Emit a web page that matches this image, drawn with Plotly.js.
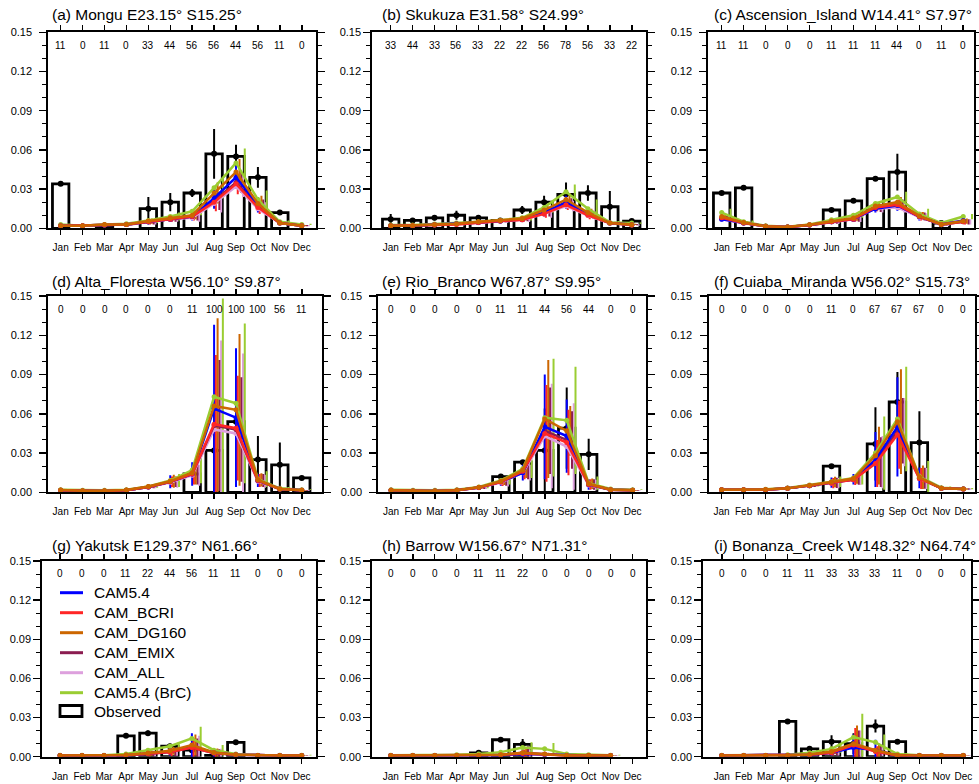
<!DOCTYPE html>
<html>
<head>
<meta charset="utf-8">
<script src="https://cdn.plot.ly/plotly-3.0.1.min.js"></script>
<style>
html, body { margin: 0; padding: 0; background: #ffffff; }
#chart { width: 979px; height: 784px; }
</style>
</head>
<body>
<div id="chart"></div>
<script>
// Monthly mean AAOD at AERONET-style stations: observed bars vs. six model runs
const months = ['Jan', 'Feb', 'Mar', 'Apr', 'May', 'Jun', 'Jul', 'Aug', 'Sep', 'Oct', 'Nov', 'Dec'];
const monthIndex = [1, 2, 3, 4, 5, 6, 7, 8, 9, 10, 11, 12];
const yTickVals = [0, 0.03, 0.06, 0.09, 0.12, 0.15];
const yTickText = ['0.00', '0.03', '0.06', '0.09', '0.12', '0.15'];
const modelNames = ['CAM5.4', 'CAM_BCRI', 'CAM_DG160', 'CAM_EMIX', 'CAM_ALL', 'CAM5.4 (BrC)'];
const obsName = 'Observed';

// (a) Mongu
const mongu_n      = [11, 0, 11, 0, 33, 44, 56, 56, 44, 56, 11, 0];
const mongu_obs    = [0.034, null, 0.001, null, 0.015, 0.020, 0.027, 0.057, 0.055, 0.039, 0.012, null];
const mongu_obs_sd = [0.001, 0, 0, 0, 0.009, 0.007, 0.003, 0.019, 0.009, 0.008, 0.001, 0];
const mongu_cam54    = [0.002, 0.002, 0.0025, 0.003, 0.005, 0.007, 0.009, 0.023, 0.039, 0.018, 0.004, 0.002];
const mongu_cam54_sd = [0.0005, 0.0005, 0.0005, 0.0008, 0.002, 0.002, 0.003, 0.008, 0.009, 0.006, 0.001, 0.0005];
const mongu_bcri     = [0.002, 0.002, 0.0025, 0.003, 0.005, 0.007, 0.009, 0.020, 0.034, 0.016, 0.004, 0.002];
const mongu_bcri_sd  = [0.0005, 0.0005, 0.0005, 0.0008, 0.002, 0.002, 0.003, 0.007, 0.008, 0.005, 0.001, 0.0005];
const mongu_dg160    = [0.002, 0.002, 0.003, 0.003, 0.0055, 0.008, 0.010, 0.027, 0.043, 0.019, 0.004, 0.002];
const mongu_dg160_sd = [0.0005, 0.0005, 0.0005, 0.0008, 0.002, 0.002, 0.003, 0.008, 0.010, 0.006, 0.001, 0.0005];
const mongu_emix     = [0.002, 0.002, 0.0025, 0.003, 0.005, 0.007, 0.009, 0.021, 0.035, 0.017, 0.004, 0.002];
const mongu_emix_sd  = [0.0005, 0.0005, 0.0005, 0.0008, 0.002, 0.002, 0.003, 0.007, 0.008, 0.005, 0.001, 0.0005];
const mongu_all      = [0.002, 0.002, 0.0025, 0.003, 0.005, 0.007, 0.008, 0.019, 0.032, 0.015, 0.004, 0.002];
const mongu_all_sd   = [0.0005, 0.0005, 0.0005, 0.0008, 0.002, 0.002, 0.003, 0.007, 0.008, 0.005, 0.001, 0.0005];
const mongu_brc      = [0.003, 0.002, 0.003, 0.0035, 0.006, 0.009, 0.013, 0.031, 0.050, 0.022, 0.005, 0.003];
const mongu_brc_sd   = [0.0005, 0.0005, 0.0005, 0.001, 0.002, 0.003, 0.003, 0.008, 0.011, 0.007, 0.001, 0.0005];

// (b) Skukuza
const skukuza_n      = [33, 44, 33, 56, 33, 22, 22, 56, 78, 56, 33, 22];
const skukuza_obs    = [0.007, 0.006, 0.008, 0.010, 0.008, 0.006, 0.014, 0.020, 0.026, 0.027, 0.0165, 0.0055];
const skukuza_obs_sd = [0.004, 0.001, 0.002, 0.0035, 0.0015, 0.001, 0.003, 0.005, 0.009, 0.006, 0.012, 0.001];
const skukuza_cam54    = [0.002, 0.002, 0.003, 0.0035, 0.0045, 0.0055, 0.007, 0.012, 0.020, 0.011, 0.004, 0.003];
const skukuza_cam54_sd = [0.0005, 0.0005, 0.0005, 0.0007, 0.001, 0.001, 0.0015, 0.003, 0.005, 0.003, 0.001, 0.0005];
const skukuza_bcri     = [0.002, 0.002, 0.0025, 0.003, 0.0045, 0.0055, 0.0065, 0.011, 0.018, 0.010, 0.004, 0.0025];
const skukuza_bcri_sd  = [0.0005, 0.0005, 0.0005, 0.0007, 0.001, 0.001, 0.0015, 0.003, 0.004, 0.003, 0.001, 0.0005];
const skukuza_dg160    = [0.002, 0.0022, 0.003, 0.0035, 0.005, 0.006, 0.0075, 0.014, 0.022, 0.012, 0.004, 0.003];
const skukuza_dg160_sd = [0.0005, 0.0005, 0.0005, 0.0007, 0.001, 0.001, 0.0015, 0.003, 0.005, 0.003, 0.001, 0.0005];
const skukuza_emix     = [0.002, 0.002, 0.0028, 0.0033, 0.0045, 0.0055, 0.0068, 0.012, 0.019, 0.0105, 0.004, 0.0028];
const skukuza_emix_sd  = [0.0005, 0.0005, 0.0005, 0.0007, 0.001, 0.001, 0.0015, 0.003, 0.004, 0.003, 0.001, 0.0005];
const skukuza_all      = [0.002, 0.002, 0.0025, 0.003, 0.0043, 0.0053, 0.0063, 0.011, 0.017, 0.0098, 0.0038, 0.0025];
const skukuza_all_sd   = [0.0005, 0.0005, 0.0005, 0.0007, 0.001, 0.001, 0.0015, 0.003, 0.004, 0.003, 0.001, 0.0005];
const skukuza_brc      = [0.0025, 0.0025, 0.0032, 0.004, 0.005, 0.0062, 0.008, 0.016, 0.028, 0.015, 0.0045, 0.004];
const skukuza_brc_sd   = [0.0005, 0.0005, 0.0005, 0.0008, 0.001, 0.001, 0.002, 0.004, 0.0055, 0.007, 0.001, 0.0005];

// (c) Ascension_Island
const ascension_n      = [11, 11, 0, 0, 0, 11, 11, 11, 44, 0, 11, 0];
const ascension_obs    = [0.027, 0.031, null, null, null, 0.014, 0.021, 0.038, 0.043, null, 0.004, null];
const ascension_obs_sd = [0.001, 0.001, 0, 0, 0, 0.001, 0.001, 0.001, 0.014, 0, 0, 0];
const ascension_cam54    = [0.007, 0.004, 0.0015, 0.001, 0.0025, 0.005, 0.007, 0.015, 0.0175, 0.009, 0.003, 0.006];
const ascension_cam54_sd = [0.002, 0.001, 0.0003, 0.0003, 0.0008, 0.0015, 0.002, 0.003, 0.004, 0.003, 0.001, 0.002];
const ascension_bcri     = [0.008, 0.004, 0.0015, 0.001, 0.0025, 0.005, 0.007, 0.016, 0.018, 0.009, 0.003, 0.005];
const ascension_bcri_sd  = [0.002, 0.001, 0.0003, 0.0003, 0.0008, 0.0015, 0.002, 0.003, 0.004, 0.003, 0.001, 0.002];
const ascension_dg160    = [0.009, 0.0045, 0.0015, 0.001, 0.0028, 0.0055, 0.0078, 0.017, 0.020, 0.0095, 0.003, 0.0055];
const ascension_dg160_sd = [0.002, 0.001, 0.0003, 0.0003, 0.0008, 0.0015, 0.002, 0.003, 0.004, 0.003, 0.001, 0.002];
const ascension_emix     = [0.0075, 0.004, 0.0015, 0.001, 0.0025, 0.005, 0.007, 0.0155, 0.018, 0.009, 0.003, 0.005];
const ascension_emix_sd  = [0.002, 0.001, 0.0003, 0.0003, 0.0008, 0.0015, 0.002, 0.003, 0.004, 0.003, 0.001, 0.002];
const ascension_all      = [0.007, 0.0038, 0.0014, 0.001, 0.0024, 0.0048, 0.0068, 0.015, 0.016, 0.0085, 0.0028, 0.005];
const ascension_all_sd   = [0.002, 0.001, 0.0003, 0.0003, 0.0008, 0.0015, 0.002, 0.003, 0.004, 0.003, 0.001, 0.002];
const ascension_brc      = [0.012, 0.005, 0.002, 0.0012, 0.003, 0.0065, 0.010, 0.019, 0.024, 0.011, 0.004, 0.009];
const ascension_brc_sd   = [0.003, 0.001, 0.0003, 0.0003, 0.0008, 0.0015, 0.002, 0.003, 0.004, 0.004, 0.001, 0.002];

// (d) Alta_Floresta
const alta_n      = [0, 0, 0, 0, 0, 0, 11, 100, 100, 100, 56, 11];
const alta_obs    = [null, null, null, null, null, null, 0.014, 0.032, 0.054, 0.025, 0.021, 0.011];
const alta_obs_sd = [0, 0, 0, 0, 0, 0, 0, 0.032, 0.034, 0.018, 0.017, 0.001];
const alta_cam54    = [0.0015, 0.001, 0.001, 0.0015, 0.004, 0.008, 0.014, 0.064, 0.057, 0.009, 0.0025, 0.0015];
const alta_cam54_sd = [0.0003, 0.0002, 0.0002, 0.0004, 0.001, 0.005, 0.009, 0.064, 0.053, 0.005, 0.001, 0.0003];
const alta_bcri     = [0.0015, 0.001, 0.001, 0.0015, 0.004, 0.008, 0.014, 0.052, 0.049, 0.009, 0.0025, 0.0015];
const alta_bcri_sd  = [0.0003, 0.0002, 0.0002, 0.0004, 0.001, 0.004, 0.008, 0.053, 0.040, 0.005, 0.001, 0.0003];
const alta_dg160    = [0.0018, 0.0012, 0.0012, 0.0017, 0.0045, 0.0085, 0.015, 0.066, 0.063, 0.0095, 0.0025, 0.0015];
const alta_dg160_sd = [0.0003, 0.0002, 0.0002, 0.0004, 0.001, 0.005, 0.009, 0.067, 0.058, 0.005, 0.001, 0.0003];
const alta_emix     = [0.0015, 0.001, 0.001, 0.0015, 0.004, 0.008, 0.014, 0.051, 0.048, 0.009, 0.0025, 0.0015];
const alta_emix_sd  = [0.0003, 0.0002, 0.0002, 0.0004, 0.001, 0.004, 0.008, 0.050, 0.040, 0.005, 0.001, 0.0003];
const alta_all      = [0.0015, 0.001, 0.001, 0.0015, 0.004, 0.0075, 0.013, 0.048, 0.045, 0.0085, 0.0025, 0.0015];
const alta_all_sd   = [0.0003, 0.0002, 0.0002, 0.0004, 0.001, 0.004, 0.008, 0.068, 0.061, 0.005, 0.001, 0.0003];
const alta_brc      = [0.002, 0.0015, 0.0015, 0.002, 0.0045, 0.009, 0.017, 0.073, 0.068, 0.010, 0.003, 0.002];
const alta_brc_sd   = [0.0003, 0.0002, 0.0002, 0.0004, 0.001, 0.005, 0.010, 0.075, 0.061, 0.006, 0.001, 0.0003];

// (e) Rio_Branco
const rio_n      = [0, 0, 0, 0, 0, 11, 11, 44, 56, 44, 0, 0];
const rio_obs    = [null, null, null, null, null, 0.012, 0.023, 0.032, 0.049, 0.029, null, null];
const rio_obs_sd = [0, 0, 0, 0, 0, 0.001, 0.001, 0.032, 0.031, 0.012, 0, 0];
const rio_cam54    = [0.0015, 0.001, 0.001, 0.0015, 0.0036, 0.008, 0.015, 0.050, 0.043, 0.006, 0.002, 0.0015];
const rio_cam54_sd = [0.0003, 0.0002, 0.0002, 0.0004, 0.001, 0.003, 0.006, 0.040, 0.028, 0.004, 0.0005, 0.0003];
const rio_bcri     = [0.0015, 0.001, 0.001, 0.0015, 0.0036, 0.0078, 0.016, 0.045, 0.038, 0.006, 0.002, 0.0015];
const rio_bcri_sd  = [0.0003, 0.0002, 0.0002, 0.0004, 0.001, 0.003, 0.006, 0.037, 0.025, 0.004, 0.0005, 0.0003];
const rio_dg160    = [0.0015, 0.001, 0.001, 0.0015, 0.0038, 0.0085, 0.017, 0.056, 0.047, 0.0065, 0.002, 0.0015];
const rio_dg160_sd = [0.0003, 0.0002, 0.0002, 0.0004, 0.001, 0.003, 0.006, 0.045, 0.019, 0.004, 0.0005, 0.0003];
const rio_emix     = [0.0015, 0.001, 0.001, 0.0015, 0.0036, 0.008, 0.016, 0.047, 0.040, 0.006, 0.002, 0.0015];
const rio_emix_sd  = [0.0003, 0.0002, 0.0002, 0.0004, 0.001, 0.003, 0.006, 0.033, 0.022, 0.004, 0.0005, 0.0003];
const rio_all      = [0.0015, 0.001, 0.001, 0.0015, 0.0035, 0.0075, 0.015, 0.043, 0.035, 0.0055, 0.002, 0.0015];
const rio_all_sd   = [0.0003, 0.0002, 0.0002, 0.0004, 0.001, 0.003, 0.006, 0.040, 0.033, 0.004, 0.0005, 0.0003];
const rio_brc      = [0.002, 0.0015, 0.0015, 0.002, 0.004, 0.009, 0.018, 0.057, 0.055, 0.007, 0.0025, 0.002];
const rio_brc_sd   = [0.0003, 0.0002, 0.0002, 0.0004, 0.001, 0.003, 0.007, 0.045, 0.041, 0.005, 0.0005, 0.0003];

// (f) Cuiaba_Miranda
const cuiaba_n      = [0, 0, 0, 0, 0, 11, 0, 67, 67, 67, 0, 0];
const cuiaba_obs    = [null, null, null, null, null, 0.020, null, 0.037, 0.069, 0.038, null, null];
const cuiaba_obs_sd = [0, 0, 0, 0, 0, 0.001, 0, 0.028, 0.023, 0.024, 0, 0];
const cuiaba_cam54    = [0.002, 0.002, 0.002, 0.003, 0.005, 0.0074, 0.010, 0.025, 0.050, 0.011, 0.003, 0.0025];
const cuiaba_cam54_sd = [0.0003, 0.0003, 0.0003, 0.0005, 0.001, 0.004, 0.004, 0.021, 0.038, 0.008, 0.001, 0.0005];
const cuiaba_bcri     = [0.002, 0.002, 0.002, 0.003, 0.005, 0.007, 0.0095, 0.022, 0.044, 0.0105, 0.003, 0.0025];
const cuiaba_bcri_sd  = [0.0003, 0.0003, 0.0003, 0.0005, 0.001, 0.004, 0.004, 0.018, 0.026, 0.008, 0.001, 0.0005];
const cuiaba_dg160    = [0.002, 0.002, 0.0022, 0.003, 0.0052, 0.0078, 0.0105, 0.028, 0.054, 0.0115, 0.003, 0.0025];
const cuiaba_dg160_sd = [0.0003, 0.0003, 0.0003, 0.0005, 0.001, 0.004, 0.004, 0.022, 0.040, 0.009, 0.001, 0.0005];
const cuiaba_emix     = [0.002, 0.002, 0.002, 0.003, 0.005, 0.0072, 0.0098, 0.023, 0.047, 0.0108, 0.003, 0.0025];
const cuiaba_emix_sd  = [0.0003, 0.0003, 0.0003, 0.0005, 0.001, 0.004, 0.004, 0.019, 0.025, 0.008, 0.001, 0.0005];
const cuiaba_all      = [0.002, 0.002, 0.002, 0.003, 0.005, 0.007, 0.0095, 0.023, 0.046, 0.0105, 0.003, 0.0025];
const cuiaba_all_sd   = [0.0003, 0.0003, 0.0003, 0.0005, 0.001, 0.004, 0.004, 0.020, 0.026, 0.008, 0.001, 0.0005];
const cuiaba_brc      = [0.0022, 0.0022, 0.0024, 0.0032, 0.0055, 0.008, 0.011, 0.030, 0.056, 0.012, 0.0035, 0.0028];
const cuiaba_brc_sd   = [0.0003, 0.0003, 0.0003, 0.0005, 0.001, 0.004, 0.005, 0.028, 0.040, 0.012, 0.001, 0.0005];

// (g) Yakutsk
const yakutsk_n      = [0, 0, 0, 11, 22, 44, 56, 11, 11, 0, 0, 0];
const yakutsk_obs    = [null, null, null, 0.016, 0.018, 0.008, 0.005, 0.001, 0.011, null, null, null];
const yakutsk_obs_sd = [0, 0, 0, 0.001, 0.002, 0.002, 0.002, 0, 0.001, 0, 0, 0];
const yakutsk_cam54    = [0.001, 0.001, 0.001, 0.0012, 0.0025, 0.004, 0.008, 0.003, 0.0015, 0.001, 0.001, 0.001];
const yakutsk_cam54_sd = [0.0002, 0.0002, 0.0002, 0.0005, 0.002, 0.003, 0.010, 0.003, 0.0005, 0.0002, 0.0002, 0.0002];
const yakutsk_bcri     = [0.001, 0.001, 0.001, 0.0012, 0.0022, 0.0035, 0.007, 0.0028, 0.0015, 0.001, 0.001, 0.001];
const yakutsk_bcri_sd  = [0.0002, 0.0002, 0.0002, 0.0005, 0.002, 0.003, 0.007, 0.003, 0.0005, 0.0002, 0.0002, 0.0002];
const yakutsk_dg160    = [0.001, 0.001, 0.001, 0.0013, 0.0028, 0.0045, 0.009, 0.0032, 0.0015, 0.001, 0.001, 0.001];
const yakutsk_dg160_sd = [0.0002, 0.0002, 0.0002, 0.0005, 0.002, 0.003, 0.008, 0.003, 0.0005, 0.0002, 0.0002, 0.0002];
const yakutsk_emix     = [0.001, 0.001, 0.001, 0.0012, 0.0023, 0.0036, 0.007, 0.0028, 0.0015, 0.001, 0.001, 0.001];
const yakutsk_emix_sd  = [0.0002, 0.0002, 0.0002, 0.0005, 0.002, 0.003, 0.007, 0.003, 0.0005, 0.0002, 0.0002, 0.0002];
const yakutsk_all      = [0.001, 0.001, 0.001, 0.0012, 0.0024, 0.0038, 0.008, 0.003, 0.0015, 0.001, 0.001, 0.001];
const yakutsk_all_sd   = [0.0002, 0.0002, 0.0002, 0.0005, 0.002, 0.003, 0.008, 0.003, 0.0005, 0.0002, 0.0002, 0.0002];
const yakutsk_brc      = [0.0012, 0.0012, 0.0012, 0.002, 0.005, 0.008, 0.014, 0.005, 0.002, 0.0012, 0.0012, 0.0012];
const yakutsk_brc_sd   = [0.0002, 0.0002, 0.0002, 0.0006, 0.002, 0.003, 0.009, 0.004, 0.0005, 0.0002, 0.0002, 0.0002];

// (h) Barrow
const barrow_n      = [0, 0, 0, 0, 11, 11, 22, 0, 0, 0, 0, 0];
const barrow_obs    = [null, null, null, null, 0.003, 0.013, 0.0095, null, null, null, null, null];
const barrow_obs_sd = [0, 0, 0, 0, 0, 0.001, 0.004, 0, 0, 0, 0, 0];
const barrow_cam54    = [0.001, 0.001, 0.001, 0.001, 0.001, 0.0012, 0.002, 0.0015, 0.001, 0.001, 0.001, null];
const barrow_cam54_sd = [0.0002, 0.0002, 0.0002, 0.0002, 0.0003, 0.0005, 0.002, 0.001, 0.0003, 0.0002, 0.0002, null];
const barrow_bcri     = [0.001, 0.001, 0.001, 0.001, 0.001, 0.0013, 0.0025, 0.0018, 0.001, 0.001, 0.001, null];
const barrow_bcri_sd  = [0.0002, 0.0002, 0.0002, 0.0002, 0.0003, 0.0005, 0.003, 0.001, 0.0003, 0.0002, 0.0002, null];
const barrow_dg160    = [0.001, 0.001, 0.001, 0.001, 0.0011, 0.0015, 0.003, 0.002, 0.001, 0.001, 0.001, null];
const barrow_dg160_sd = [0.0002, 0.0002, 0.0002, 0.0002, 0.0003, 0.0005, 0.003, 0.001, 0.0003, 0.0002, 0.0002, null];
const barrow_emix     = [0.001, 0.001, 0.001, 0.001, 0.001, 0.0014, 0.003, 0.0018, 0.001, 0.001, 0.001, null];
const barrow_emix_sd  = [0.0002, 0.0002, 0.0002, 0.0002, 0.0003, 0.0005, 0.005, 0.001, 0.0003, 0.0002, 0.0002, null];
const barrow_all      = [0.001, 0.001, 0.001, 0.001, 0.001, 0.0013, 0.0025, 0.0016, 0.001, 0.001, 0.001, null];
const barrow_all_sd   = [0.0002, 0.0002, 0.0002, 0.0002, 0.0003, 0.0005, 0.003, 0.001, 0.0003, 0.0002, 0.0002, null];
const barrow_brc      = [0.0012, 0.0012, 0.0012, 0.0015, 0.002, 0.0035, 0.007, 0.006, 0.002, 0.0015, 0.0012, null];
const barrow_brc_sd   = [0.0002, 0.0002, 0.0002, 0.0003, 0.0005, 0.001, 0.004, 0.0045, 0.0005, 0.0003, 0.0002, null];

// (i) Bonanza_Creek
const bonanza_n      = [0, 0, 0, 11, 11, 33, 33, 33, 11, 0, 0, 0];
const bonanza_obs    = [null, null, null, 0.027, 0.006, 0.0115, 0.010, 0.0235, 0.0115, null, null, null];
const bonanza_obs_sd = [0, 0, 0, 0.001, 0.001, 0.005, 0.008, 0.005, 0.001, 0, 0, 0];
const bonanza_cam54    = [0.001, 0.001, 0.001, 0.001, 0.0015, 0.003, 0.007, 0.005, 0.001, 0.001, 0.001, 0.001];
const bonanza_cam54_sd = [0.0002, 0.0002, 0.0002, 0.0002, 0.0005, 0.002, 0.010, 0.008, 0.0005, 0.0002, 0.0002, 0.0002];
const bonanza_bcri     = [0.001, 0.001, 0.001, 0.001, 0.0015, 0.003, 0.009, 0.004, 0.001, 0.001, 0.001, 0.001];
const bonanza_bcri_sd  = [0.0002, 0.0002, 0.0002, 0.0002, 0.0005, 0.002, 0.013, 0.004, 0.0005, 0.0002, 0.0002, 0.0002];
const bonanza_dg160    = [0.001, 0.001, 0.001, 0.001, 0.0017, 0.004, 0.010, 0.005, 0.0012, 0.001, 0.001, 0.001];
const bonanza_dg160_sd = [0.0002, 0.0002, 0.0002, 0.0002, 0.0005, 0.002, 0.014, 0.005, 0.0005, 0.0002, 0.0002, 0.0002];
const bonanza_emix     = [0.001, 0.001, 0.001, 0.001, 0.0015, 0.003, 0.008, 0.0045, 0.001, 0.001, 0.001, 0.001];
const bonanza_emix_sd  = [0.0002, 0.0002, 0.0002, 0.0002, 0.0005, 0.002, 0.012, 0.004, 0.0005, 0.0002, 0.0002, 0.0002];
const bonanza_all      = [0.001, 0.001, 0.001, 0.001, 0.0015, 0.003, 0.009, 0.0045, 0.001, 0.001, 0.001, 0.001];
const bonanza_all_sd   = [0.0002, 0.0002, 0.0002, 0.0002, 0.0005, 0.002, 0.011, 0.004, 0.0005, 0.0002, 0.0002, 0.0002];
const bonanza_brc      = [0.0012, 0.0012, 0.0012, 0.0015, 0.003, 0.006, 0.015, 0.011, 0.002, 0.0012, 0.0012, 0.0012];
const bonanza_brc_sd   = [0.0002, 0.0002, 0.0002, 0.0003, 0.0008, 0.003, 0.018, 0.006, 0.0008, 0.0002, 0.0002, 0.0002];

// Station table assembled from the arrays above
const stations = [
  { title: '(a) Mongu E23.15° S15.25°', n: mongu_n, obs: mongu_obs, obsSd: mongu_obs_sd,
    mean: [mongu_cam54, mongu_bcri, mongu_dg160, mongu_emix, mongu_all, mongu_brc],
    sd: [mongu_cam54_sd, mongu_bcri_sd, mongu_dg160_sd, mongu_emix_sd, mongu_all_sd, mongu_brc_sd] },
  { title: '(b) Skukuza E31.58° S24.99°', n: skukuza_n, obs: skukuza_obs, obsSd: skukuza_obs_sd,
    mean: [skukuza_cam54, skukuza_bcri, skukuza_dg160, skukuza_emix, skukuza_all, skukuza_brc],
    sd: [skukuza_cam54_sd, skukuza_bcri_sd, skukuza_dg160_sd, skukuza_emix_sd, skukuza_all_sd, skukuza_brc_sd] },
  { title: '(c) Ascension_Island W14.41° S7.97°', n: ascension_n, obs: ascension_obs, obsSd: ascension_obs_sd,
    mean: [ascension_cam54, ascension_bcri, ascension_dg160, ascension_emix, ascension_all, ascension_brc],
    sd: [ascension_cam54_sd, ascension_bcri_sd, ascension_dg160_sd, ascension_emix_sd, ascension_all_sd, ascension_brc_sd] },
  { title: '(d) Alta_Floresta W56.10° S9.87°', n: alta_n, obs: alta_obs, obsSd: alta_obs_sd,
    mean: [alta_cam54, alta_bcri, alta_dg160, alta_emix, alta_all, alta_brc],
    sd: [alta_cam54_sd, alta_bcri_sd, alta_dg160_sd, alta_emix_sd, alta_all_sd, alta_brc_sd] },
  { title: '(e) Rio_Branco W67.87° S9.95°', n: rio_n, obs: rio_obs, obsSd: rio_obs_sd,
    mean: [rio_cam54, rio_bcri, rio_dg160, rio_emix, rio_all, rio_brc],
    sd: [rio_cam54_sd, rio_bcri_sd, rio_dg160_sd, rio_emix_sd, rio_all_sd, rio_brc_sd] },
  { title: '(f) Cuiaba_Miranda W56.02° S15.73°', n: cuiaba_n, obs: cuiaba_obs, obsSd: cuiaba_obs_sd,
    mean: [cuiaba_cam54, cuiaba_bcri, cuiaba_dg160, cuiaba_emix, cuiaba_all, cuiaba_brc],
    sd: [cuiaba_cam54_sd, cuiaba_bcri_sd, cuiaba_dg160_sd, cuiaba_emix_sd, cuiaba_all_sd, cuiaba_brc_sd] },
  { title: '(g) Yakutsk E129.37° N61.66°', n: yakutsk_n, obs: yakutsk_obs, obsSd: yakutsk_obs_sd,
    mean: [yakutsk_cam54, yakutsk_bcri, yakutsk_dg160, yakutsk_emix, yakutsk_all, yakutsk_brc],
    sd: [yakutsk_cam54_sd, yakutsk_bcri_sd, yakutsk_dg160_sd, yakutsk_emix_sd, yakutsk_all_sd, yakutsk_brc_sd] },
  { title: '(h) Barrow W156.67° N71.31°', n: barrow_n, obs: barrow_obs, obsSd: barrow_obs_sd,
    mean: [barrow_cam54, barrow_bcri, barrow_dg160, barrow_emix, barrow_all, barrow_brc],
    sd: [barrow_cam54_sd, barrow_bcri_sd, barrow_dg160_sd, barrow_emix_sd, barrow_all_sd, barrow_brc_sd] },
  { title: '(i) Bonanza_Creek W148.32° N64.74°', n: bonanza_n, obs: bonanza_obs, obsSd: bonanza_obs_sd,
    mean: [bonanza_cam54, bonanza_bcri, bonanza_dg160, bonanza_emix, bonanza_all, bonanza_brc],
    sd: [bonanza_cam54_sd, bonanza_bcri_sd, bonanza_dg160_sd, bonanza_emix_sd, bonanza_all_sd, bonanza_brc_sd] }
];

// ---- styling and geometry ----
const W = 979, H = 784;
const FONT = 'Liberation Sans, Arial, Helvetica, sans-serif';
const modelColors = ['#0000ff', '#ff2626', '#cc6600', '#8b1c50', '#dda0dd', '#9acd32'];
const errOffset = [0, 0.08, 0.16, 0.24, 0.32, 0.40];   // horizontal shift of each run's spread bar
const drawOrder = [4, 3, 5, 0, 1, 2];                 // back-to-front stacking of model runs
// plot frames in pixels [left, right, top, bottom], month range, y-label standoff
const frames = [
  { l: 48.3,  r: 316,   t: 32.3,  b: 228.3, xr: [0.435, 12.65], so: 5 },
  { l: 372.3, r: 646,   t: 32.3,  b: 228.3, xr: [0.16, 12.65],  so: 0 },
  { l: 708.3, r: 974,   t: 32.3,  b: 228.3, xr: [0.39, 12.49],  so: 5 },
  { l: 48.3,  r: 321.7, t: 296,   b: 492.3, xr: [0.435, 12.91], so: 5 },
  { l: 378.3, r: 646,   t: 296,   b: 492.3, xr: [0.42, 12.61],  so: 5 },
  { l: 709.3, r: 975,   t: 296,   b: 492.3, xr: [0.44, 12.53],  so: 6 },
  { l: 42.3,  r: 316,   t: 561,   b: 756.7, xr: [0.19, 12.65],  so: 0 },
  { l: 372.3, r: 646,   t: 561,   b: 756.7, xr: [0.16, 12.61],  so: 0 },
  { l: 703.3, r: 971,   t: 561,   b: 756.7, xr: [0.16, 12.35],  so: 0 }
];
const titleX = [50, 380, 712];
const titleY = [15, 281.7, 545.5];
// key drawn inside panel (g): sample line span, label start, row centres (px)
const keyLineX = [60, 83];
const keyTextX = 92;
const keyRowY = [592.7, 612.7, 632.7, 652.7, 672.7, 692.7];
const keyObsY = 711;

const traces = [];
const annotations = [];
const shapes = [];
const layout = {
  width: W, height: H,
  margin: { l: 0, r: 0, t: 0, b: 0 },
  paper_bgcolor: '#ffffff', plot_bgcolor: '#ffffff',
  font: { family: FONT, color: '#000000' },
  showlegend: false,
  barmode: 'overlay',
  annotations: annotations,
  shapes: shapes
};

stations.forEach((s, i) => {
  const f = frames[i];
  const suffix = i === 0 ? '' : String(i + 1);
  const xa = 'x' + suffix, ya = 'y' + suffix;

  layout['xaxis' + suffix] = {
    domain: [f.l / W, f.r / W], range: f.xr, anchor: ya,
    tickmode: 'array', tickvals: monthIndex, ticktext: months,
    ticks: 'outside', ticklen: 5, tickwidth: 1.5, tickcolor: '#000',
    showline: true, linecolor: '#000', linewidth: 2, mirror: 'allticks',
    showgrid: false, zeroline: false, fixedrange: true,
    tickfont: { family: FONT, size: 10, color: '#000' }, ticklabelstandoff: 4
  };
  layout['yaxis' + suffix] = {
    domain: [1 - f.b / H, 1 - f.t / H], range: [0, 0.15], anchor: xa,
    tickmode: 'array', tickvals: yTickVals, ticktext: yTickText,
    ticks: 'outside', ticklen: 7, tickwidth: 1.5, tickcolor: '#000',
    minor: { tickmode: 'linear', tick0: 0, dtick: 0.01, ticks: 'outside', ticklen: 4, tickwidth: 1, tickcolor: '#000', showgrid: false },
    showline: true, linecolor: '#000', linewidth: 2, mirror: 'allticks',
    showgrid: false, zeroline: false, fixedrange: true,
    tickfont: { family: FONT, size: 11, color: '#000' }, ticklabelstandoff: f.so
  };

  // observed monthly means as open bars
  traces.push({
    type: 'bar', x: monthIndex, y: s.obs, width: 0.75, xaxis: xa, yaxis: ya,
    marker: { color: '#ffffff', line: { color: '#000000', width: 2.8 } },
    name: obsName, hoverinfo: 'skip'
  });
  // observed spread and mean dot
  traces.push({
    type: 'scatter', mode: 'markers', x: monthIndex, y: s.obs, xaxis: xa, yaxis: ya,
    marker: { color: '#000000', size: 6 },
    error_y: { type: 'data', array: s.obsSd, visible: true, color: '#000000', thickness: 2, width: 0 },
    hoverinfo: 'skip'
  });
  // model spread bars, shifted right of each month
  drawOrder.forEach(k => {
    traces.push({
      type: 'scatter', mode: 'markers', xaxis: xa, yaxis: ya,
      x: monthIndex.map(m => m + errOffset[k]), y: s.mean[k],
      marker: { size: 1, color: 'rgba(0,0,0,0)' },
      error_y: { type: 'data', array: s.sd[k], visible: true, color: modelColors[k], thickness: 2, width: 0 },
      hoverinfo: 'skip'
    });
  });
  // model monthly means
  drawOrder.forEach(k => {
    traces.push({
      type: 'scatter', mode: 'lines+markers', x: monthIndex, y: s.mean[k], xaxis: xa, yaxis: ya,
      line: { color: modelColors[k], width: 2.5 },
      marker: { color: modelColors[k], size: 5 },
      name: modelNames[k], hoverinfo: 'skip'
    });
  });

  // panel title
  annotations.push({
    xref: 'paper', yref: 'paper', x: titleX[i % 3] / W, y: 1 - titleY[Math.floor(i / 3)] / H,
    xanchor: 'left', yanchor: 'middle', showarrow: false, text: s.title,
    font: { family: FONT, size: 15.5, color: '#000' }
  });
  // sample percentages along the top of each frame
  s.n.forEach((v, j) => {
    annotations.push({
      xref: xa, yref: ya + ' domain', x: monthIndex[j], y: 1 - 13 / 196,
      xanchor: 'center', yanchor: 'middle', showarrow: false, text: String(v),
      font: { family: FONT, size: 10, color: '#000' }
    });
  });
});

// key for the model runs and the observations, placed in panel (g)
modelNames.forEach((name, k) => {
  shapes.push({
    type: 'line', xref: 'paper', yref: 'paper',
    x0: keyLineX[0] / W, x1: keyLineX[1] / W, y0: 1 - keyRowY[k] / H, y1: 1 - keyRowY[k] / H,
    line: { color: modelColors[k], width: 3 }
  });
  annotations.push({
    xref: 'paper', yref: 'paper', x: keyTextX / W, y: 1 - keyRowY[k] / H,
    xanchor: 'left', yanchor: 'middle', showarrow: false, text: name,
    font: { family: FONT, size: 15.5, color: '#000' }
  });
});
shapes.push({
  type: 'rect', xref: 'paper', yref: 'paper',
  x0: keyLineX[0] / W, x1: (keyLineX[1] - 1) / W, y0: 1 - (keyObsY + 5.5) / H, y1: 1 - (keyObsY - 5.5) / H,
  line: { color: '#000000', width: 2.8 }, fillcolor: '#ffffff'
});
annotations.push({
  xref: 'paper', yref: 'paper', x: keyTextX / W, y: 1 - keyObsY / H,
  xanchor: 'left', yanchor: 'middle', showarrow: false, text: obsName,
  font: { family: FONT, size: 15.5, color: '#000' }
});

Plotly.newPlot('chart', traces, layout, { staticPlot: true, displayModeBar: false });
</script>
</body>
</html>
